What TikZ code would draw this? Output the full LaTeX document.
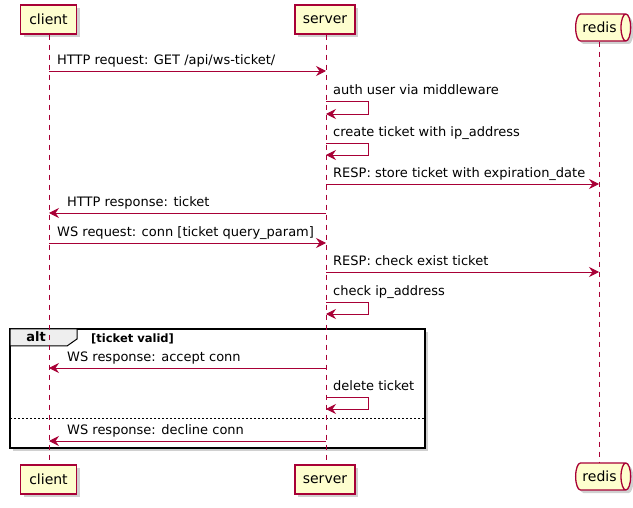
\documentclass[tikz,border=0pt]{standalone}
\usepackage{fontspec}
\setmainfont{DejaVu Sans}
\usetikzlibrary{arrows.meta,shapes.geometric,shadows}
\definecolor{pborder}{HTML}{A80036}
\definecolor{pfill}{HTML}{FEFECE}
\definecolor{tabfill}{HTML}{EEEEEE}
\tikzset{
  shadowed/.style={drop shadow={shadow xshift=3pt,shadow yshift=-3pt,opacity=0.3,fill=black!60}},
  pbox/.style={draw=pborder,fill=pfill,line width=1.3pt,minimum height=29pt,inner sep=0pt,
     font=\fontsize{14}{16}\selectfont,shadowed},
  qbox/.style={cylinder,draw=pborder,fill=pfill,line width=1.3pt,minimum height=55pt,minimum width=27pt,
     aspect=0.75,inner sep=1pt,font=\fontsize{14}{16}\selectfont,shadowed},
  lifeline/.style={draw=pborder,line width=0.8pt,dash pattern=on 5pt off 5pt},
  msg/.style={draw=pborder,line width=0.9pt,-{Stealth[length=10pt,width=10pt,inset=3.5pt]}},
  mtext/.style={anchor=base west,inner sep=0pt,font=\fontsize{13}{15}\selectfont},
  altframe/.style={draw=black,fill=white,line width=1.6pt,shadowed},
  alttab/.style={draw=black,fill=tabfill,line width=1pt},
  guard/.style={anchor=base west,inner sep=0pt,font=\fontsize{11.5}{13}\selectfont\bfseries},
}
\begin{document}
\begin{tikzpicture}[x=1pt,y=-1pt]
\useasboundingbox[fill=white] (0,0) rectangle (633,508);
% alt frame (behind)
\draw[altframe] (10,329) rectangle (425,448);
\draw[alttab] (10,329) -- (77,329) -- (77,339) -- (67,346) -- (10,346) -- cycle;
\node[anchor=center,font=\fontsize{13}{15}\selectfont\bfseries,inner sep=0pt] (altlbl) at (36,337) {alt};
\node[guard] (guardlbl) at (91,342) {[ticket valid]};
\draw[black,line width=0.7pt,dash pattern=on 2pt off 2pt] (10,418) -- (425,418);
% participants
\node[pbox,minimum width=56pt] (cTop) at (48.5,19.5) {client};
\node[pbox,minimum width=60pt] (sTop) at (325,19.5) {server};
\node[qbox] (rTop) at (599.5,27.5) {redis};
\node[pbox,minimum width=56pt] (cBot) at (48.5,479.5) {client};
\node[pbox,minimum width=60pt] (sBot) at (325,479.5) {server};
\node[qbox] (rBot) at (599.5,476.5) {redis};
% lifelines
\coordinate (cl) at (49,0);
\coordinate (sl) at (326,0);
\coordinate (rl) at (599,0);
\draw[lifeline] (cl |- cTop.south) -- (cl |- cBot.north);
\draw[lifeline] (sl |- sTop.south) -- (sl |- sBot.north);
\draw[lifeline] (rl |- rTop.south) -- (rl |- rBot.north);
% messages
\newcommand{\selfmsg}[3]{%
  \draw[msg] (sl |- 0,#1) -- (368,#1) -- (368,#2) -- (sl |- 0,#2);
  \node[mtext] at (333,#1-6) {#3};}
% 1
\draw[msg] (cl |- 0,71) -- (sl |- 0,71);
\node[mtext] (t1) at (57,65) {HTTP request: GET /api/ws-ticket/};
% 2,3
\selfmsg{101}{114}{auth user via middleware}
\selfmsg{143}{155}{create ticket with ip\_address}
% 4
\draw[msg] (sl |- 0,184) -- (rl |- 0,184);
\node[mtext] (t4) at (333,178) {RESP: store ticket with expiration\_date};
% 5
\draw[msg] (sl |- 0,213) -- (cl |- 0,213);
\node[mtext] (t5) at (67,207) {HTTP response: ticket};
% 6
\draw[msg] (cl |- 0,243) -- (sl |- 0,243);
\node[mtext] (t6) at (57,237) {WS request: conn [ticket query\_param]};
% 7
\draw[msg] (sl |- 0,272) -- (rl |- 0,272);
\node[mtext] (t7) at (333,266) {RESP: check exist ticket};
% 8
\selfmsg{302}{314}{check ip\_address}
% 9
\draw[msg] (sl |- 0,368) -- (cl |- 0,368);
\node[mtext] (t9) at (67,362) {WS response: accept conn};
% 10
\selfmsg{397}{409}{delete ticket}
% 11
\draw[msg] (sl |- 0,441) -- (cl |- 0,441);
\node[mtext] (t11) at (67,435) {WS response: decline conn};
\end{tikzpicture}
\end{document}
